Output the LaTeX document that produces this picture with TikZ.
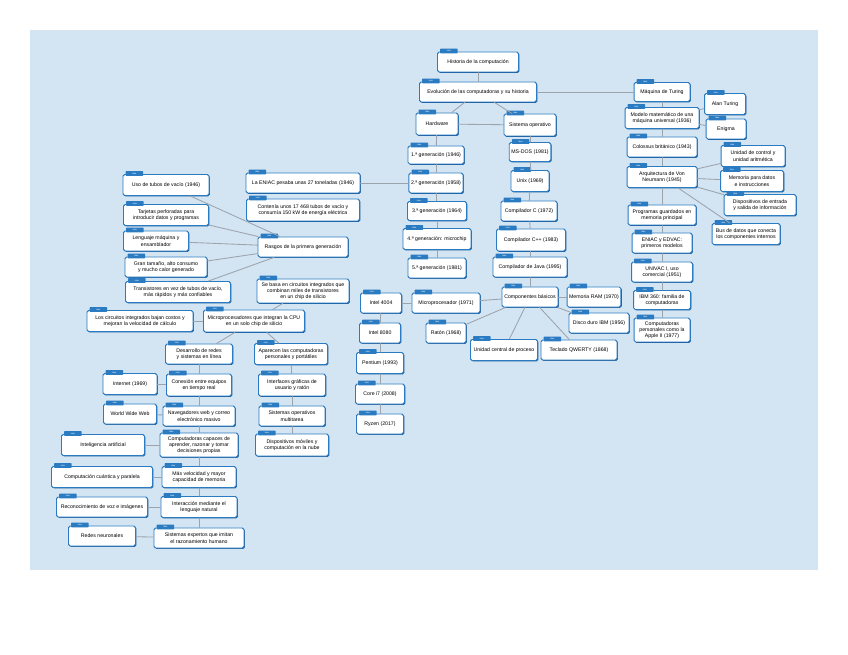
\documentclass[tikz,border=0pt]{standalone}
\usepackage{fontspec}
\setmainfont{Liberation Sans}
\usepackage{tikz}
\usetikzlibrary{shadows}
\definecolor{bgblue}{HTML}{D3E4F3}
\definecolor{boxblue}{HTML}{2A7BC2}
\definecolor{shadeblue}{HTML}{1B5C9A}
\definecolor{linegray}{HTML}{9CA3AA}
\tikzset{
  every picture/.style={line join=round, line cap=round},
  box/.style={draw=boxblue, line width=0.7pt, fill=white, rounded corners=1.2pt,
    minimum height=0.5cm, inner xsep=1.5pt, inner ysep=1pt, align=center,
    font=\fontsize{3.7}{4.5}\selectfont,
    drop shadow={fill=shadeblue, opacity=1, shadow xshift=0.6pt, shadow yshift=-0.6pt}},
  bw/.style={minimum width=#1*0.025cm},
  bh/.style={minimum height=#1*0.025cm},
  tab/.style={fill=boxblue, rounded corners=0.5pt, minimum width=0.44cm, minimum height=0.12cm,
    inner sep=0pt, text=white, font=\fontsize{1.5}{1.5}\selectfont},
  link/.style={draw=linegray, line width=0.6pt},
}

\begin{document}
\begin{tikzpicture}[x=0.025cm,y=-0.025cm]
\useasboundingbox (0,0) rectangle (848,655);
\fill[bgblue] (30,30) rectangle (818,570);

% centro
\node[box,bw=81] (hist) at (478,62) {Historia de la computación};
\node[box,bw=117] (evol) at (478,92) {Evolución de las computadoras y su historia};
\node[box,bw=42,bh=22] (hw) at (437,124) {Hardware};
\node[box,bw=52,bh=22] (sw) at (530,125) {Sistema operativo};
\node[box,bw=56,bh=18] (g1) at (436,155) {1.ª generación (1946)};
\node[box,bw=51] (g2) at (436,183) {2.ª generación (1958)};
\node[box,bw=59,bh=19] (g3) at (437,211) {3.ª generación (1964)};
\node[box,bw=68,bh=21] (g4) at (437,239) {4.ª generación: microchip};
\node[box,bw=58] (g5) at (437,268) {5.ª generación (1981)};
\node[box,bw=38,bh=19] (dos) at (530,152) {MS-DOS (1981)};
\node[box,bw=38,bh=21] (unix) at (530,181) {Unix (1969)};
\node[box,bw=56] (cc) at (529,211) {Compilador C (1972)};
\node[box,bw=69,bh=22] (cpp) at (531,240) {Compilador C++ (1983)};
\node[box,bw=74] (java) at (530,267) {Compilador de Java (1995)};
\node[box,bw=56] (comp) at (530,297) {Componentes básicos};
\node[box,bw=53] (ram) at (594,297) {Memoria RAM (1970)};
\node[box,bw=60] (disco) at (599,323) {Disco duro IBM (1956)};
\node[box,bw=40] (raton) at (446,333) {Ratón (1968)};
\node[box,bw=67,bh=21] (cpu) at (504,350) {Unidad central de proceso};
\node[box,bw=76] (tecl) at (579,350) {Teclado QWERTY (1868)};
\node[box,bw=68] (micro) at (446,303) {Microprocesador (1971)};
\node[box,bw=41] (i4004) at (381,303) {Intel 4004};
\node[box,bw=41] (i8080) at (380,333) {Intel 8080};
\node[box,bw=47,bh=21] (pent) at (380,363) {Pentium (1993)};
\node[box,bw=49] (corei) at (380,394) {Core i7 (2008)};
\node[box,bw=47] (ryzen) at (380,424) {Ryzen (2017)};

% derecha
\node[box,bw=56,bh=19] (turing) at (662,92) {Máquina de Turing};
\node[box,bw=74,bh=21] (teor) at (662,118) {Modelo matemático de una\\máquina universal (1936)};
\node[box,bw=41,bh=21] (alan) at (725,104) {Alan Turing};
\node[box,bw=40] (enigma) at (726,129) {Enigma};
\node[box,bw=70] (colos) at (662,147) {Colossus británico (1943)};
\node[box,bw=70,bh=21] (arq) at (662,177) {Arquitectura de Von\\Neumann (1945)};
\node[box,bw=64,bh=21] (uc) at (753,156) {Unidad de control y\\unidad aritmética};
\node[box,bw=63,bh=21] (mem) at (752,181) {Memoria para datos\\e instrucciones};
\node[box,bw=72,bh=21] (es) at (760,205) {Dispositivos de entrada\\y salida de información};
\node[box,bw=68,bh=21] (bus) at (746,234) {Bus de datos que conecta\\los componentes internos};
\node[box,bw=68] (prog) at (662,215) {Programas guardados en\\memoria principal};
\node[box,bw=60] (eniacm) at (662,243) {ENIAC y EDVAC:\\primeros modelos};
\node[box,bw=61] (univac) at (662,272) {UNIVAC I, uso\\comercial (1951)};
\node[box,bw=57,bh=19] (ibm) at (662,300) {IBM 360: familia de\\computadoras};
\node[box,bw=56,bh=24] (apple) at (662,330) {Computadoras\\personales como la\\Apple II (1977)};

% izquierda
\node[box,bw=86,bh=21] (tubos) at (166,185) {Uso de tubos de vacío (1946)};
\node[box,bw=85,bh=21] (tarj) at (166,215) {Tarjetas perforadas para\\introducir datos y programas};
\node[box,bw=65] (leng) at (156,241) {Lenguaje máquina y\\ensamblador};
\node[box,bw=82] (calor) at (166,267) {Gran tamaño, alto consumo\\y mucho calor generado};
\node[box,bw=105,bh=21] (trans) at (178,292) {Transistores en vez de tubos de vacío,\\más rápidos y más confiables};
\node[box,bw=90] (rasgos) at (303,247) {Rasgos de la primera generación};
\node[box,bw=114] (eniac) at (303,183) {La ENIAC pesaba unas 27 toneladas (1946)};
\node[box,bw=113,bh=22] (tubn) at (303,210) {Contenía unos 17 468 tubos de vacío y\\consumía 150 kW de energía eléctrica};
\node[box,bw=92,bh=24] (ci) at (303,291) {Se basa en circuitos integrados que\\combinan miles de transistores\\en un chip de silicio};
\node[box,bw=106,bh=21] (costo) at (140,321) {Los circuitos integrados bajan costos y\\mejoran la velocidad de cálculo};
\node[box,bw=101,bh=22] (micp) at (254,321) {Microprocesadores que integran la CPU\\en un solo chip de silicio};
\node[box,bw=67] (redes) at (199,354) {Desarrollo de redes\\y sistemas en línea};
\node[box,bw=73,bh=21] (pers) at (291,354) {Aparecen las computadoras\\personales y portátiles};
\node[box,bw=54,bh=21] (net) at (130,384) {Internet (1969)};
\node[box,bw=65,bh=22] (conex) at (199,385) {Conexión entre equipos\\en tiempo real};
\node[box,bw=67,bh=22] (gui) at (292,385) {Interfaces gráficas de\\usuario y ratón};
\node[box,bw=53] (www) at (130,414) {World Wide Web};
\node[box,bw=72] (naveg) at (199,416) {Navegadores web y correo\\electrónico masivo};
\node[box,bw=66] (multi) at (292,416) {Sistemas operativos\\multitarea};
\node[box,bw=83,bh=21] (ia) at (103,445) {Inteligencia artificial};
\node[box,bw=78,bh=24] (razon) at (199,445) {Computadoras capaces de\\aprender, razonar y tomar\\decisiones propias};
\node[box,bw=73,bh=22] (movil) at (292,445) {Dispositivos móviles y\\computación en la nube};
\node[box,bw=101,bh=21] (cuant) at (102,477) {Computación cuántica y paralela};
\node[box,bw=74,bh=21] (vel) at (199,477) {Más velocidad y mayor\\capacidad de memoria};
\node[box,bw=91] (voz) at (102,507) {Reconocimiento de voz e imágenes};
\node[box,bw=76,bh=21] (habla) at (199,507) {Interacción mediante el\\lenguaje natural};
\node[box,bw=67] (neur) at (102,536) {Redes neuronales};
\node[box,bw=90] (expert) at (199,538) {Sistemas expertos que imitan\\el razonamiento humano};

% pestañas
\foreach \n in {hist,evol,hw,sw,g1,g2,g3,g4,g5,dos,unix,cc,cpp,java,comp,ram,disco,raton,cpu,tecl,
  micro,i4004,i8080,pent,corei,ryzen,turing,teor,alan,enigma,colos,arq,uc,mem,es,bus,prog,eniacm,
  univac,ibm,apple,tubos,tarj,leng,calor,trans,rasgos,eniac,tubn,ci,costo,micp,redes,pers,net,conex,
  gui,www,naveg,multi,ia,razon,movil,cuant,vel,voz,habla,neur,expert}
  \node[tab,anchor=west] at ([xshift=0.07cm,yshift=0.3pt]\n.north west) {idea};

% enlaces
\draw[link] (hist) -- (evol);
\draw[link] (evol) -- (hw);
\draw[link] (evol) -- (sw);
\draw[link] (hw) -- (sw);
\draw[link] (evol) -- (turing);
\draw[link] (hw) -- (g1);
\draw[link] (g1) -- (g2);
\draw[link] (g2) -- (g3);
\draw[link] (g3) -- (g4);
\draw[link] (g4) -- (g5);
\draw[link] (g2) -- (eniac);
\draw[link] (sw) -- (dos);
\draw[link] (dos) -- (unix);
\draw[link] (unix) -- (cc);
\draw[link] (cc) -- (cpp);
\draw[link] (cpp) -- (java);
\draw[link] (java) -- (comp);
\draw[link] (comp) -- (ram);
\draw[link] (comp) -- (disco);
\draw[link] (comp) -- (raton);
\draw[link] (comp) -- (cpu);
\draw[link] (comp) -- (tecl);
\draw[link] (comp) -- (micro);
\draw[link] (micro) -- (i4004);
\draw[link] (i4004) -- (i8080);
\draw[link] (i8080) -- (pent);
\draw[link] (pent) -- (corei);
\draw[link] (corei) -- (ryzen);
\draw[link] (turing) -- (teor);
\draw[link] (teor) -- (alan);
\draw[link] (teor) -- (enigma);
\draw[link] (teor) -- (colos);
\draw[link] (colos) -- (arq);
\draw[link] (arq) -- (uc);
\draw[link] (arq) -- (mem);
\draw[link] (arq) -- (es);
\draw[link] (arq) -- (bus);
\draw[link] (arq) -- (prog);
\draw[link] (prog) -- (eniacm);
\draw[link] (eniacm) -- (univac);
\draw[link] (univac) -- (ibm);
\draw[link] (ibm) -- (apple);
\draw[link] (rasgos) -- (tubos);
\draw[link] (rasgos) -- (tarj);
\draw[link] (rasgos) -- (leng);
\draw[link] (rasgos) -- (calor);
\draw[link] (rasgos) -- (trans);
\draw[link] (ci) -- (micp);
\draw[link] (costo) -- (micp);
\draw[link] (micp) -- (redes);
\draw[link] (micp) -- (pers);
\draw[link] (redes) -- (conex);
\draw[link] (conex) -- (naveg);
\draw[link] (naveg) -- (razon);
\draw[link] (razon) -- (vel);
\draw[link] (vel) -- (habla);
\draw[link] (habla) -- (expert);
\draw[link] (net) -- (conex);
\draw[link] (www) -- (naveg);
\draw[link] (ia) -- (razon);
\draw[link] (cuant) -- (vel);
\draw[link] (voz) -- (habla);
\draw[link] (neur) -- (expert);
\draw[link] (pers) -- (gui);
\draw[link] (gui) -- (multi);
\draw[link] (multi) -- (movil);
\end{tikzpicture}
\end{document}
